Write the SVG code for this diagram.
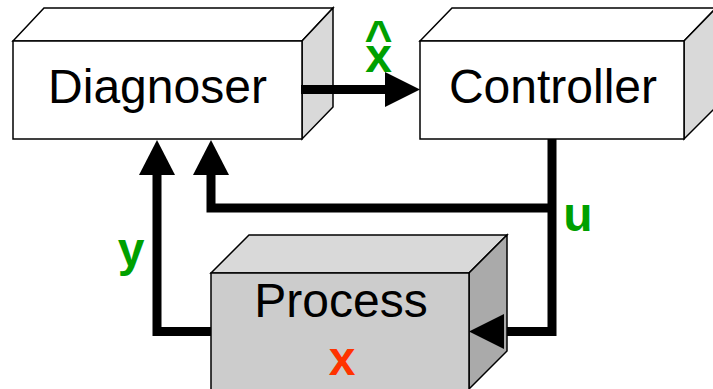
<svg xmlns="http://www.w3.org/2000/svg" width="713" height="389" viewBox="0 0 713 389">
<style>
.edge{stroke:#000;stroke-width:1.5;stroke-linejoin:miter}
.lbl{font-family:"Liberation Sans",Arial,sans-serif;font-size:48px;fill:#000;text-anchor:middle}
.var{font-family:"Liberation Sans",Arial,sans-serif;font-size:48px;font-weight:bold;text-anchor:middle}
.wire{fill:none;stroke:#000;stroke-width:9;stroke-linejoin:miter}
.head{fill:#000;stroke:none}
</style>
<rect width="713" height="389" fill="#fff"/>
<g id="connectors">
<path class="wire" d="M301,89.5 H390"/>
<polygon class="head" points="420,89.5 385,72 385,107"/>
<path class="wire" d="M552,139 V331.5 H500"/>
<path class="wire" d="M552,208 H211 V170"/>
<polygon class="head" points="211,140 193,175 229,175"/>
<path class="wire" d="M211,331.5 H157 V170"/>
<polygon class="head" points="157,140 139,175 175,175"/>
</g>
<g id="diagnoser">
<polygon class="edge" fill="#fff" points="13,41 44,8 333,8 302,41"/>
<polygon class="edge" fill="#d9d9d9" points="302,41 333,8 333,107 302,139"/>
<rect class="edge" fill="#fff" x="13" y="41" width="289" height="98"/>
<text class="lbl" x="157.5" y="103">Diagnoser</text>
</g>
<path class="wire" d="M301,89.5 H334"/>
<g id="controller">
<polygon class="edge" fill="#fff" points="420,41 452,8 716,8 684,41"/>
<polygon class="edge" fill="#d9d9d9" points="684,41 716,8 716,107 684,139"/>
<rect class="edge" fill="#fff" x="420" y="41" width="264" height="98"/>
<text class="lbl" x="553" y="103">Controller</text>
</g>
<g id="process">
<polygon class="edge" fill="#d9d9d9" points="211,273 249,235 507,235 469,273"/>
<polygon class="edge" fill="#aaaaaa" points="469,273 507,235 507,351 469,389"/>
<rect class="edge" fill="#cccccc" x="211" y="273" width="258" height="120"/>
<text class="lbl" x="341" y="317">Process</text>
<text class="var" x="342" y="375" fill="#ff3300">x</text>
</g>
<polygon class="head" points="469,331.5 504,314 504,349"/>
<g id="labels">
<text class="var" fill="#00a000"><tspan x="378.5" y="54">^</tspan><tspan x="378.5" y="72">x</tspan></text>
<text class="var" x="131" y="266" fill="#00a000">y</text>
<text class="var" x="578" y="231" fill="#00a000">u</text>
</g>
</svg>
